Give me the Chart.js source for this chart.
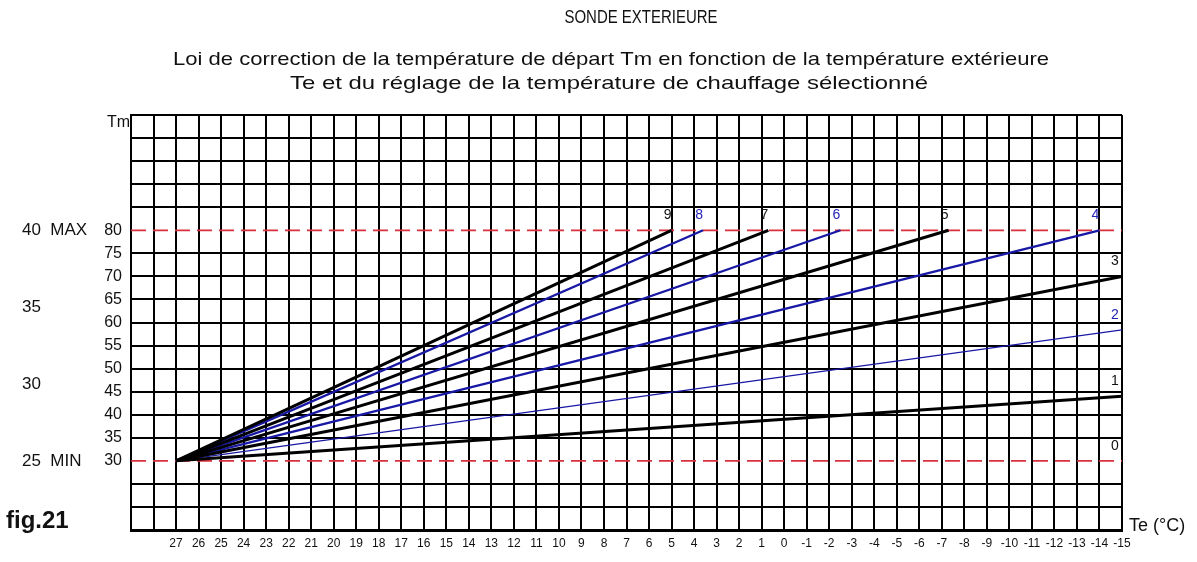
<!DOCTYPE html>
<html>
<head>
<meta charset="utf-8">
<script src="https://cdn.jsdelivr.net/npm/chart.js@4.4.1/dist/chart.umd.min.js"></script>
<style>
  html, body { margin: 0; padding: 0; background: #ffffff; }
  #wrap { width: 1197px; height: 562px; position: relative; }
</style>
</head>
<body>
<div id="wrap"><canvas id="c" width="1197" height="562"></canvas></div>
<script>
// Heating curves: flow temperature Tm against outdoor temperature Te
const curveNames   = ['0', '1', '2', '3', '4', '5', '6', '7', '8', '9'];
const curveStartTe = 27;
const curveStartTm = 30;
const curveEndTe   = [-15, -15, -15, -15, -14, -7.3, -2.5, 0.7, 3.6, 5];
const curveEndTm   = [30, 44, 58.4, 70, 80, 80, 80, 80, 80, 80];
const curveIsBlue  = [false, false, true, false, true, false, true, false, true, false];

// Axis extents (Te runs from warm on the left to cold on the right)
const teMin = -15, teMax = 29, teLastLabel = 27;
const tmMin = 15, tmMax = 105, tmStep = 5;
const tmLabelMin = 30, tmLabelMax = 80;

// Flow temperature limits
const limitNames = ['MIN', 'MAX'];
const limitTm    = [30, 80];

// Floor heating scale shown alongside Tm
const floorValues = [25, 30, 35, 40];
const floorLabels = ['25  MIN', '30', '35', '40  MAX'];

const BLACK = '#000000';
const BLUE  = '#1818a4';
const RED   = '#d9303f';
const FONT  = '"Liberation Sans", Arial, sans-serif';

function tmToFloor(tm) {
  const f0 = floorValues[0], f1 = floorValues[floorValues.length - 1];
  return f0 + (tm - limitTm[0]) * (f1 - f0) / (limitTm[1] - limitTm[0]);
}

const datasets = [];
limitTm.forEach((tm, i) => {
  datasets.push({
    label: limitNames[i],
    data: [{ x: teMax, y: tm }, { x: teMin, y: tm }],
    borderColor: RED,
    borderWidth: 1.8,
    borderDash: [15, 7],
    pointRadius: 0,
    order: 2
  });
});
curveNames.forEach((name, i) => {
  const blue = curveIsBlue[i];
  let width = blue ? 2.3 : 3;
  if (name === '2') width = 1.3;
  if (name === '0') width = 0;
  datasets.push({
    label: name,
    curveLabel: name,
    data: [{ x: curveStartTe, y: curveStartTm }, { x: curveEndTe[i], y: curveEndTm[i] }],
    borderColor: blue ? BLUE : BLACK,
    borderWidth: width,
    pointRadius: 0,
    order: blue ? 1 : 0
  });
});

// Number written above the end of each curve
const curveLabelPlugin = {
  id: 'curveLabels',
  afterDatasetsDraw(chart) {
    const { ctx, chartArea } = chart;
    ctx.save();
    ctx.font = '14px ' + FONT;
    ctx.textAlign = 'center';
    ctx.textBaseline = 'middle';
    chart.data.datasets.forEach((ds, i) => {
      if (!ds.curveLabel) return;
      const pts = chart.getDatasetMeta(i).data;
      const end = pts[pts.length - 1];
      const x = Math.min(end.x - 4, chartArea.right - 7);
      const y = end.y - 15;
      const idx = curveNames.indexOf(ds.curveLabel);
      ctx.fillStyle = curveIsBlue[idx] ? '#2323b4' : '#111111';
      ctx.fillText(ds.curveLabel, x, y);
    });
    ctx.restore();
  }
};

function fitText(ctx, text, cx, cy, font, width) {
  ctx.save();
  ctx.font = font;
  ctx.textAlign = 'center';
  ctx.textBaseline = 'middle';
  const w = ctx.measureText(text).width;
  ctx.translate(cx, cy);
  ctx.scale(width / w, 1);
  ctx.fillText(text, 0, 0);
  ctx.restore();
}

// Headings, axis names and figure number
const annotationPlugin = {
  id: 'annotations',
  afterDraw(chart) {
    const { ctx, chartArea } = chart;
    ctx.save();
    ctx.fillStyle = '#111111';
    fitText(ctx, 'SONDE EXTERIEURE', 641, 18, '18px ' + FONT, 153);
    fitText(ctx, 'Loi de correction de la température de départ Tm en fonction de la température extérieure',
            611, 60, '19px ' + FONT, 876);
    fitText(ctx, 'Te et du réglage de la température de chauffage sélectionné',
            609, 84, '19px ' + FONT, 638);

    ctx.font = '16px ' + FONT;
    ctx.textAlign = 'right';
    ctx.textBaseline = 'middle';
    ctx.fillText('Tm', chartArea.left - 1, chartArea.top + 8);

    ctx.font = '18px ' + FONT;
    ctx.textAlign = 'left';
    ctx.fillText('Te (°C)', chartArea.right + 7, chartArea.bottom - 4);

    ctx.font = 'bold 24px ' + FONT;
    ctx.fillText('fig.21', 6, 521);
    ctx.restore();
  }
};

new Chart(document.getElementById('c'), {
  type: 'line',
  data: { datasets },
  options: {
    responsive: false,
    animation: false,
    events: [],
    layout: { padding: { left: 22, right: 75, top: 115, bottom: 0 } },
    plugins: { legend: { display: false }, tooltip: { enabled: false }, title: { display: false } },
    elements: { line: { tension: 0, borderCapStyle: 'butt' } },
    scales: {
      x: {
        type: 'linear',
        reverse: true,
        min: teMin,
        max: teMax,
        afterFit(scale) { scale.height = 32; },
        ticks: {
          stepSize: 1,
          maxTicksLimit: 100,
          autoSkip: false,
          maxRotation: 0,
          minRotation: 0,
          padding: 6,
          color: '#111111',
          font: { family: FONT, size: 12 },
          callback: (v) => (v <= teLastLabel ? String(v) : '')
        },
        grid: { color: BLACK, lineWidth: 2, drawTicks: false },
        border: { color: BLACK, width: 3 }
      },
      y: {
        type: 'linear',
        position: 'left',
        weight: 0,
        min: tmMin,
        max: tmMax,
        afterFit(scale) { scale.width = 40; },
        ticks: {
          stepSize: tmStep,
          maxTicksLimit: 100,
          autoSkip: false,
          padding: 9,
          color: '#111111',
          font: { family: FONT, size: 16 },
          callback: (v) => (v >= tmLabelMin && v <= tmLabelMax ? String(v) : '')
        },
        grid: {
          drawTicks: false,
          lineWidth: 2,
          color: (c) => (c.tick && limitTm.includes(c.tick.value) ? 'rgba(0,0,0,0)' : BLACK)
        },
        border: { color: BLACK, width: 2 }
      },
      yFloor: {
        type: 'linear',
        position: 'left',
        weight: 1,
        min: tmToFloor(tmMin),
        max: tmToFloor(tmMax),
        afterFit(scale) { scale.width = 69; },
        afterBuildTicks(scale) { scale.ticks = floorValues.map((v) => ({ value: v })); },
        ticks: {
          crossAlign: 'far',
          autoSkip: false,
          padding: 0,
          color: '#111111',
          font: { family: FONT, size: 17 },
          callback: (v) => floorLabels[floorValues.indexOf(v)]
        },
        grid: { display: false, drawTicks: false },
        border: { display: false }
      }
    }
  },
  plugins: [curveLabelPlugin, annotationPlugin]
});
</script>
</body>
</html>
